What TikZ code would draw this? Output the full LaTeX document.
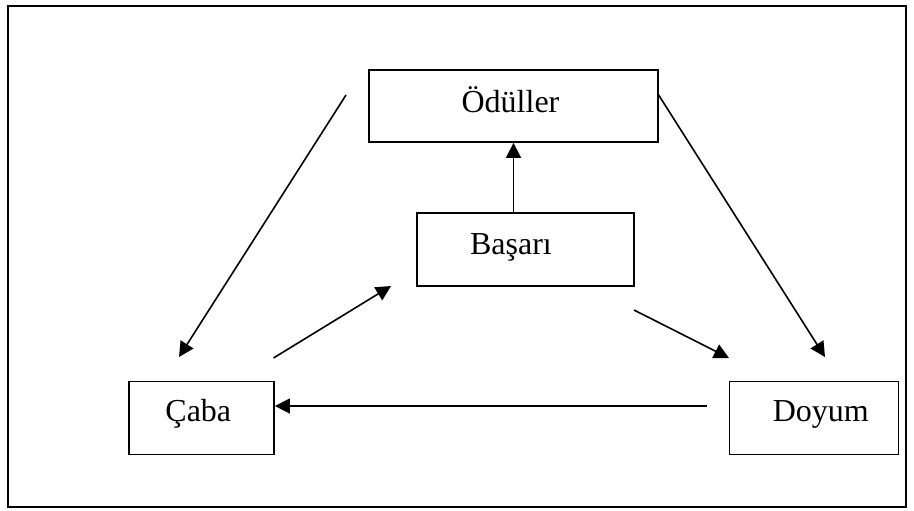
\documentclass[tikz,border=0pt]{standalone}
\usepackage{fontspec}
\setmainfont{Liberation Serif}
\usetikzlibrary{arrows.meta}
\begin{document}
\begin{tikzpicture}[x=0.5pt,y=-0.5pt,
  box/.style={draw,line width=0.9pt,inner sep=0pt,font=\fontsize{16pt}{19pt}\selectfont,
    text depth=4pt},
  link/.style={line width=0.8pt,-{Triangle[length=7.5pt,width=7.5pt]}}]
\useasboundingbox (0,0) rectangle (914,510);
% outer frame
\draw[line width=0.9pt] (8,6) rectangle (906,507);
% boxes
\node[box,text height=10pt,minimum width=144.5pt,minimum height=36pt] (od) at (513.5,106) {\kern-3pt Ödüller};
\node[box,text height=8.5pt,minimum width=108.5pt,minimum height=36.5pt] (bas) at (525.5,249.5) {\kern-14.5pt Başarı};
\node[box,text height=7.5pt,minimum width=72.5pt,minimum height=36.5pt] (cab) at (201.5,418) {\kern-3.2pt Çaba};
\node[box,text height=7.5pt,minimum width=84.5pt,minimum height=36.5pt] (doy) at (814,418) {\kern6.8pt Doyum};
% free ends of the connectors
\coordinate (a1) at (346,95);
\coordinate (a1e) at (179,357);
\coordinate (a2) at (658,94);
\coordinate (a2e) at (825,357);
\coordinate (a4) at (273.5,358);
\coordinate (a4e) at (391,286);
\coordinate (a5) at (634,310);
\coordinate (a5e) at (729,358);
\coordinate (a6) at (707,406);
% connectors
\draw[link] (a1) -- (a1e);
\draw[link] (a2) -- (a2e);
\draw[link] (bas.north -| od.south) -- (od.south);
\draw[link] (a4) -- (a4e);
\draw[link] (a5) -- (a5e);
\draw[link] (a6) -- (a6 -| cab.east);
\end{tikzpicture}
\end{document}
